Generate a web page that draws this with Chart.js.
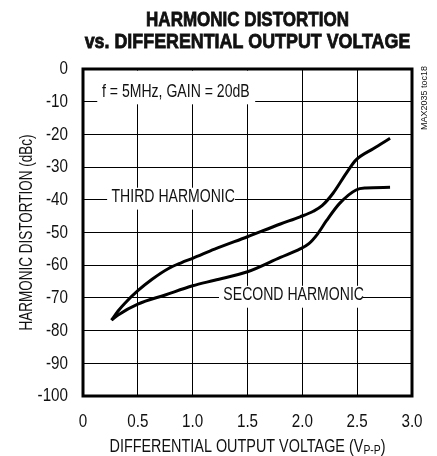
<!DOCTYPE html>
<html>
<head>
<meta charset="utf-8">
<script src="https://cdn.jsdelivr.net/npm/chart.js@4.4.1/dist/chart.umd.min.js"></script>
<style>
  html, body { margin: 0; padding: 0; background: #fff; }
</style>
</head>
<body>
<canvas id="chart" width="437" height="456"></canvas>
<script>
// DATA
const xTicks = [0, 0.5, 1.0, 1.5, 2.0, 2.5, 3.0];
const xTickLabels = ["0", "0.5", "1.0", "1.5", "2.0", "2.5", "3.0"];
const yTicks = [0, -10, -20, -30, -40, -50, -60, -70, -80, -90, -100];
const yTickLabels = ["0", "-10", "-20", "-30", "-40", "-50", "-60", "-70", "-80", "-90", "-100"];

const thirdX = [0.26, 0.32, 0.38, 0.5, 0.63, 0.78, 0.9, 1.0, 1.2, 1.5, 1.8, 1.98, 2.1, 2.18, 2.28, 2.4, 2.49, 2.65, 2.8];
const thirdY = [-76.8, -74, -71.7, -67.8, -64.3, -61.0, -59.2, -57.9, -55.1, -51.3, -47.4, -45.2, -43.5, -41.8, -38, -31.9, -27.8, -24.3, -21.2];

const secondX = [0.26, 0.32, 0.5, 0.75, 1.0, 1.2, 1.5, 1.8, 1.98, 2.06, 2.14, 2.22, 2.34, 2.49, 2.58, 2.8];
const secondY = [-76.8, -75.2, -71.9, -69.1, -66.3, -64.6, -62, -57.6, -55.0, -53.4, -50.4, -46.4, -41.1, -37, -36.4, -36.2];

const FONT = "'Liberation Sans', Arial, sans-serif";
const INK = "#111";

function pts(xs, ys){
  return xs.map((x,i)=>({x: x, y: ys[i]}));
}

// labels sitting on the grid, white behind them
const notes = [
  {text: "f = 5MHz, GAIN = 20dB", x: 0.173, y: -6.9, box: [0.13, 1.57, -0.5, -10.8]},
  {text: "THIRD HARMONIC", x: 0.26, y: -39.1, box: [0.22, 1.385, -36.3, -43.0]},
  {text: "SECOND HARMONIC", x: 1.28, y: -69.1, box: [1.24, 2.55, -66.3, -73.0]}
];

// draw text squeezed sideways (the original type is a condensed face)
function txt(ctx, s, x, y, o){
  ctx.save();
  ctx.font = (o.weight || "normal") + " " + o.size + "px " + FONT;
  ctx.textAlign = o.align || "left";
  ctx.textBaseline = "middle";
  ctx.fillStyle = INK;
  ctx.translate(x, y);
  if(o.rot) ctx.rotate(o.rot);
  ctx.scale(o.sx || 1, 1);
  ctx.fillText(s, 0, 0);
  if(o.stroke){
    ctx.strokeStyle = INK;
    ctx.lineWidth = o.stroke;
    ctx.strokeText(s, 0, 0);
  }
  ctx.restore();
}

const extras = {
  id: "extras",
  beforeDatasetsDraw(chart){
    const {ctx, scales:{x, y}} = chart;
    notes.forEach(n=>{
      let x0 = x.getPixelForValue(n.box[0]);
      let x1 = x.getPixelForValue(n.box[1]);
      let y0 = y.getPixelForValue(n.box[2]);
      let y1 = y.getPixelForValue(n.box[3]);
      ctx.fillStyle = "#fff";
      ctx.fillRect(x0, y0, x1 - x0, y1 - y0);
      txt(ctx, n.text, x.getPixelForValue(n.x), y.getPixelForValue(n.y), {size: 19, sx: 0.74});
    });
  },
  afterDraw(chart){
    const {ctx, chartArea:a, scales:{x, y}} = chart;
    const cx = (a.left + a.right)/2;

    // frame
    ctx.save();
    ctx.strokeStyle = "#000";
    ctx.lineWidth = 3;
    ctx.strokeRect(a.left, a.top, a.right - a.left, a.bottom - a.top);
    ctx.restore();

    // tick labels, placed by the scales
    x.ticks.forEach((t,i)=>{
      txt(ctx, xTickLabels[i], x.getPixelForValue(t.value), a.bottom + 26, {size: 19, sx: 0.8, align: "center"});
    });
    y.ticks.forEach((t,i)=>{
      txt(ctx, yTickLabels[i], a.left - 15, y.getPixelForValue(t.value), {size: 19, sx: 0.8, align: "right"});
    });

    // title
    txt(ctx, "HARMONIC DISTORTION", cx, 20, {size: 21, weight: "bold", sx: 0.81, align: "center", stroke: 0.8});
    txt(ctx, "vs. DIFFERENTIAL OUTPUT VOLTAGE", cx, 42, {size: 21, weight: "bold", sx: 0.85, align: "center", stroke: 0.8});

    // y title
    txt(ctx, "HARMONIC DISTORTION (dBc)", 27, (a.top + a.bottom)/2, {size: 18, sx: 0.75, align: "center", rot: -Math.PI/2});

    // x title with subscript
    ctx.save();
    let main = "DIFFERENTIAL OUTPUT VOLTAGE (V", sub = "P-P";
    ctx.font = "18px " + FONT;
    let w1 = ctx.measureText(main).width;
    let w3 = ctx.measureText(")").width;
    ctx.font = "13px " + FONT;
    let w2 = ctx.measureText(sub).width;
    let sx = 0.8;
    ctx.translate(cx, 447);
    ctx.scale(sx, 1);
    ctx.fillStyle = INK;
    ctx.textBaseline = "middle";
    let left = -(w1 + w2 + w3)/2;
    ctx.font = "18px " + FONT;
    ctx.fillText(main, left, 0);
    ctx.fillText(")", left + w1 + w2, 0);
    ctx.font = "13px " + FONT;
    ctx.fillText(sub, left + w1, 3);
    ctx.restore();

    // part number, vertical
    txt(ctx, "MAX2035 toc18", 425, 98, {size: 9, align: "center", rot: -Math.PI/2});
  }
};

let chart = new Chart(document.getElementById("chart"), {
  type: "scatter",
  data: {
    datasets: [
      {label: "THIRD HARMONIC", data: pts(thirdX, thirdY)},
      {label: "SECOND HARMONIC", data: pts(secondX, secondY)}
    ].map(d=>Object.assign(d, {
      showLine: true,
      borderColor: "#000",
      borderWidth: 3,
      pointRadius: 0,
      cubicInterpolationMode: "monotone",
      fill: false
    }))
  },
  options: {
    responsive: false,
    animation: false,
    devicePixelRatio: 1,
    layout: {padding: {left: 0, right: 25, top: 69, bottom: 0}},
    plugins: {
      legend: {display: false},
      tooltip: {enabled: false},
      title: {display: false}
    },
    scales: {
      x: {
        type: "linear",
        min: 0, max: 3,
        afterFit(s){ s.height = 60; },
        afterBuildTicks(s){ s.ticks = xTicks.map(v=>({value: v})); },
        ticks: {display: false},
        grid: {color: "#000", lineWidth: 1, drawTicks: false},
        border: {display: false}
      },
      y: {
        type: "linear",
        min: -100, max: 0,
        afterFit(s){ s.width = 83; },
        afterBuildTicks(s){ s.ticks = yTicks.map(v=>({value: v})); },
        ticks: {display: false},
        grid: {color: "#000", lineWidth: 1, drawTicks: false},
        border: {display: false}
      }
    }
  },
  plugins: [extras]
});
</script>
</body>
</html>
